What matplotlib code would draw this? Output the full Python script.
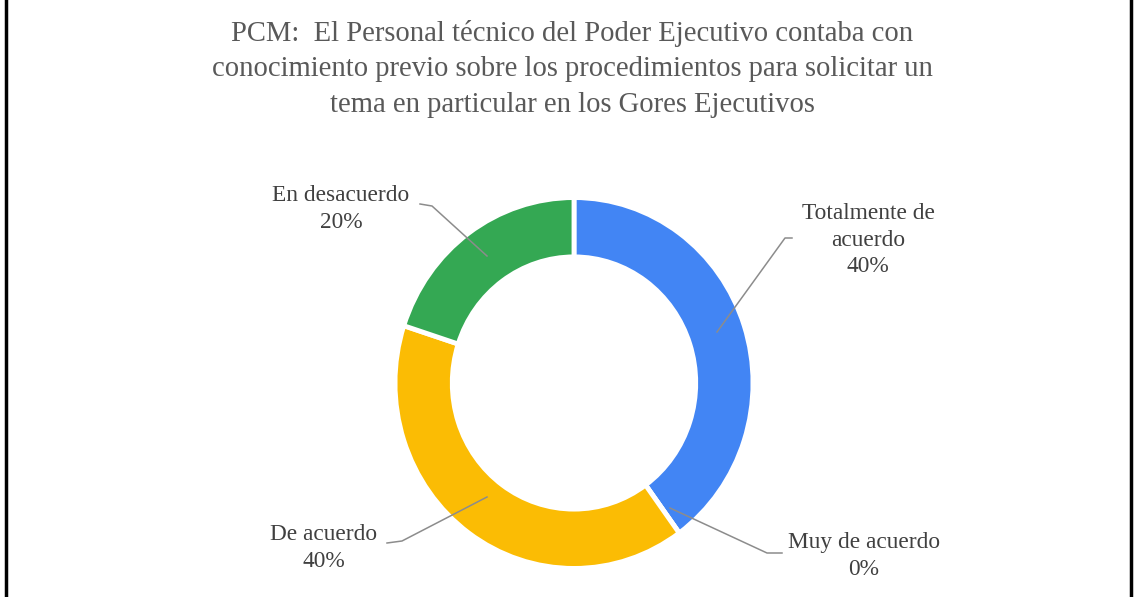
import matplotlib.pyplot as plt
from matplotlib.lines import Line2D

plt.rcParams['font.family'] = ['Liberation Serif', 'DejaVu Serif']

labels = ['Totalmente de\nacuerdo', 'Muy de acuerdo', 'De acuerdo', 'En desacuerdo']
values = [40, 0, 40, 20]
colors = ['#4285F4', '#EA4335', '#FBBC04', '#34A853']
title = ('PCM:  El Personal técnico del Poder Ejecutivo contaba con\n'
         'conocimiento previo sobre los procedimientos para solicitar un\n'
         'tema en particular en los Gores Ejecutivos')

W, H = 1137, 597
K = 1.036  # the ring in the picture is a little taller than wide


def pt(x, y):
    # pixel position (from top-left) -> data coords
    return x, (H - y) / K


fig = plt.figure(figsize=(W / 100, H / 100), dpi=100)
ax = fig.add_axes([0, 0, 1, 1])

r = 179
wedges, _ = ax.pie(values, colors=colors, startangle=90, counterclock=False,
                   center=pt(574, 383), radius=r,
                   wedgeprops=dict(width=r * 0.32, edgecolor='white', linewidth=3.5))
ax.set_aspect('auto')
ax.set_xlim(0, W)
ax.set_ylim(0, H / K)
ax.axis('off')

# label centres and leader lines (text end, bend, point on ring)
text_pos = [(868, 240), (864, 556), (324, 548), (341, 209)]
leaders = [
    [(792, 238), (785, 238), (717, 332)],
    [(782, 553), (767, 553), (670, 508)],
    [(387, 543), (402, 541), (487, 497)],
    [(420, 204), (432, 206), (487, 256)],
]

for lab, v, tp, ld in zip(labels, values, text_pos, leaders):
    tx, ty = pt(*tp)
    ax.text(tx, ty, f'{lab}\n{v}%', ha='center', va='center',
            fontsize=16.8, color='#404040', linespacing=1.35)
    xs, ys = zip(*[pt(*p) for p in ld])
    ax.plot(xs, ys, color='#8c8c8c', lw=1.1)

fig.text(572 / W, 1 - 69 / H, title, ha='center', va='center', fontsize=20.6,
         color='#595959', linespacing=1.46)

# frame lines on the left and right
fig.add_artist(Line2D([6 / W, 6 / W], [0, 1], transform=fig.transFigure, color='black', lw=2.5))
fig.add_artist(Line2D([1131 / W, 1131 / W], [0, 1], transform=fig.transFigure, color='black', lw=2.5))

fig.savefig('out.png', dpi=100, facecolor='white')
